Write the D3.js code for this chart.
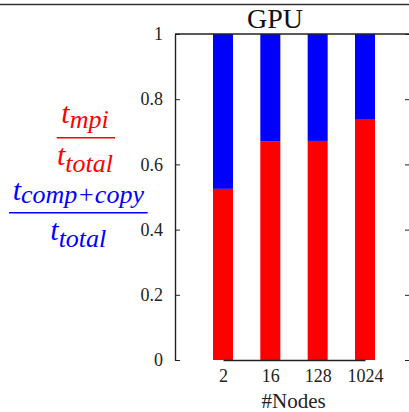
<!DOCTYPE html>
<html>
<head>
<meta charset="utf-8">
<script src="https://cdn.jsdelivr.net/npm/d3@7"></script>
<style>
  body { margin: 0; background: #fff; }
  svg { display: block; }
</style>
</head>
<body>
<div class="chart_wrapper"></div>
<script>
// data
const nodes = ["2", "16", "128", "1024"]
const mpiShare = [0.525, 0.670, 0.672, 0.737]
const compCopyShare = [0.475, 0.330, 0.328, 0.263]
const yTicks = [0, 0.2, 0.4, 0.6, 0.8, 1]
const yTickLabels = ["0", "0.2", "0.4", "0.6", "0.8", "1"]

const dataset = nodes.map((n, i) => ({ node: n, mpi: mpiShare[i], comp: compCopyShare[i] }))

const serif = "Liberation Serif"

let dimensions = {
  width: 409,
  height: 412,
  margin: { top: 34, right: -1, bottom: 52, left: 175 },
}
dimensions.boundedWidth = dimensions.width - dimensions.margin.left - dimensions.margin.right
dimensions.boundedHeight = dimensions.height - dimensions.margin.top - dimensions.margin.bottom

const wrapper = d3.select(".chart_wrapper")
  .append("svg")
    .attr("width", dimensions.width)
    .attr("height", dimensions.height)

// top rule
wrapper.append("line")
  .attr("x1", 0).attr("x2", dimensions.width)
  .attr("y1", 4.5).attr("y2", 4.5)
  .attr("stroke", "#333").attr("stroke-width", 1.3)

const bounds = wrapper.append("g")
  .attr("transform", `translate(${dimensions.margin.left},${dimensions.margin.top})`)

// scales
const xScale = d3.scalePoint()
  .domain(nodes)
  .range([48, 190])

const yScale = d3.scaleLinear()
  .domain([0, 1])
  .range([dimensions.boundedHeight, 0])

const barWidth = 20

// bars: red (mpi) at bottom, blue (comp+copy) on top
bounds.selectAll(".bar-mpi")
  .data(dataset)
  .enter().append("rect")
    .attr("class", "bar-mpi")
    .attr("x", d => xScale(d.node) - barWidth / 2)
    .attr("width", barWidth)
    .attr("y", d => yScale(d.mpi))
    .attr("height", d => yScale(0) - yScale(d.mpi))
    .attr("fill", "#ff0000")

bounds.selectAll(".bar-comp")
  .data(dataset)
  .enter().append("rect")
    .attr("class", "bar-comp")
    .attr("x", d => xScale(d.node) - barWidth / 2)
    .attr("width", barWidth)
    .attr("y", d => yScale(d.mpi + d.comp))
    .attr("height", d => yScale(d.mpi) - yScale(d.mpi + d.comp))
    .attr("fill", "#0000ff")

// axes
const yAxis = bounds.append("g")
  .call(d3.axisLeft(yScale)
    .tickValues(yTicks)
    .tickFormat((d, i) => yTickLabels[i])
    .tickSizeInner(-5)
    .tickSizeOuter(0)
    .tickPadding(12))
yAxis.attr("font-size", 18).attr("font-family", serif)
yAxis.selectAll("text").attr("fill", "#222")
yAxis.select(".domain").attr("stroke", "#222").attr("stroke-width", 1.4)
yAxis.selectAll(".tick line").attr("stroke", "#222")

const yAxisRight = bounds.append("g")
  .attr("transform", `translate(${dimensions.boundedWidth},0)`)
  .call(d3.axisRight(yScale).tickValues(yTicks).tickFormat("").tickSizeInner(-5).tickSizeOuter(0))
yAxisRight.select(".domain").attr("stroke", "#222").attr("stroke-width", 1.4)
yAxisRight.selectAll(".tick line").attr("stroke", "#222")

// frame top
bounds.append("line")
  .attr("x1", 0).attr("x2", dimensions.boundedWidth)
  .attr("y1", 0).attr("y2", 0)
  .attr("stroke", "#222").attr("stroke-width", 1.4)

const xAxis = bounds.append("g")
  .attr("transform", `translate(0,${dimensions.boundedHeight})`)
  .call(d3.axisBottom(xScale).tickSize(0).tickPadding(9))
xAxis.attr("font-size", 18).attr("font-family", serif)
xAxis.select(".domain").attr("stroke", "#222").attr("stroke-width", 1.4)
xAxis.selectAll("text").attr("fill", "#222")

xAxis.append("text")
  .attr("x", 118.7)
  .attr("y", 48)
  .attr("fill", "#222")
  .attr("text-anchor", "middle")
  .attr("font-size", 21)
  .text("#Nodes")

// title
wrapper.append("text")
  .attr("x", 275)
  .attr("y", 28)
  .attr("text-anchor", "middle")
  .attr("font-family", serif)
  .attr("font-size", 28)
  .attr("fill", "#111")
  .text("GPU")

// y label as two stacked fractions
const drawFraction = (cx, numBase, numDrop, lineY, denBase, sub, color, lineX1, lineX2) => {
  const g = wrapper.append("g")
    .attr("fill", color)
    .attr("font-family", serif)
    .attr("font-style", "italic")
  const top = g.append("text").attr("x", cx).attr("y", numBase).attr("text-anchor", "middle")
  top.append("tspan").attr("font-size", 30).text("t")
  top.append("tspan").attr("font-size", 26).attr("dy", numDrop).text(sub)
  g.append("line")
    .attr("x1", lineX1).attr("x2", lineX2)
    .attr("y1", lineY).attr("y2", lineY)
    .attr("stroke", color).attr("stroke-width", 1.6)
  const bot = g.append("text").attr("x", cx).attr("y", denBase).attr("text-anchor", "middle")
  bot.append("tspan").attr("font-size", 30).text("t")
  bot.append("tspan").attr("font-size", 26).attr("dy", 6.7).text("total")
}

drawFraction(85, 123.3, 5, 137.7, 165, "mpi", "#ff0000", 56.7, 115)
drawFraction(78.3, 200, 3.3, 212.7, 240, "comp+copy", "#0000ff", 9, 147.7)
</script>
</body>
</html>
